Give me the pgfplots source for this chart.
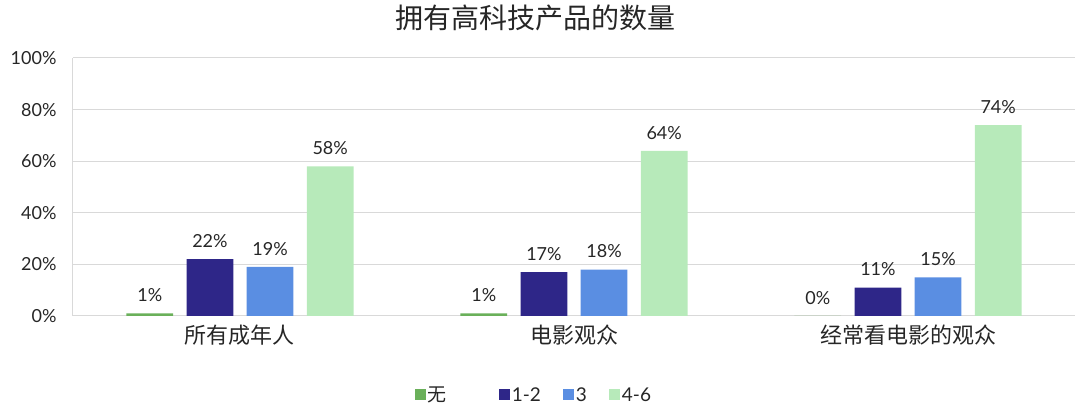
\documentclass[border=0pt]{standalone}
\usepackage{pgfplots}
\pgfplotsset{compat=1.18}
\usepackage{fontspec}
\setmainfont{Lato}
\newfontfamily\cjk{Noto Sans CJK SC}

\definecolor{cNone}{RGB}{106,176,90}
\definecolor{cOne}{RGB}{46,38,136}
\definecolor{cThree}{RGB}{90,142,226}
\definecolor{cFour}{RGB}{183,234,186}
\definecolor{gridc}{RGB}{217,217,217}
\definecolor{txt}{RGB}{38,38,38}

\pgfplotsset{sq legend/.style={legend image code/.code={\fill[##1] (0pt,-5.5pt) rectangle (11pt,5.5pt);}}}

\begin{document}
\begin{tikzpicture}
\path[use as bounding box] (-73pt,-95pt) rectangle (1007pt,316pt);
\begin{axis}[
  at={(0pt,0pt)}, anchor=south west,
  scale only axis, width=1002pt, height=258pt,
  ymin=0, ymax=100, xmin=-0.5, xmax=2.5,
  ybar, bar width=0.14,
  ytick={0,20,...,100},
  yticklabel={\pgfmathprintnumber{\tick}\%},
  xtick={0,1,2},
  xticklabels={所有成年人,电影观众,经常看电影的观众},
  /pgf/number format/assume math mode=true,
  major tick length=0pt,
  axis lines*=left,
  axis line style={-, gridc, line width=1pt},
  ymajorgrids, grid style={gridc, line width=1pt},
  yticklabel style={font=\fontsize{18}{22}\selectfont, text=txt, xshift=-13pt},
  xticklabel style={font=\cjk\fontsize{22}{26}\selectfont, text=txt, yshift=-5pt},
  title={\cjk 拥有高科技产品的数量},
  title style={at={(0.462,1)}, anchor=center, yshift=34pt, font=\fontsize{28}{32}\selectfont, text=txt},
  nodes near coords={\pgfmathprintnumber{\pgfplotspointmeta}\%},
  every node near coord/.append style={font=\fontsize{18}{22}\selectfont, text=txt, yshift=8pt},
  legend columns=4,
  legend style={at={(0.46,-0.306)}, anchor=center, draw=none, fill=none,
    font=\fontsize{19}{22}\selectfont, text=txt,
    /tikz/every even column/.append style={column sep=20pt}},
]
\addplot[bar shift=-0.27, fill=cNone, draw=none, sq legend] coordinates {(0,1) (1,1) (2,0)};
\addplot[bar shift=-0.09, fill=cOne, draw=none, sq legend] coordinates {(0,22) (1,17) (2,11)};
\addplot[bar shift=0.09, fill=cThree, draw=none, sq legend] coordinates {(0,19) (1,18) (2,15)};
\addplot[bar shift=0.27, fill=cFour, draw=none, sq legend] coordinates {(0,58) (1,64) (2,74)};
\legend{{\cjk 无}\rule{30pt}{0pt}, 1-2, 3, 4-6}
\end{axis}
\end{tikzpicture}
\end{document}
